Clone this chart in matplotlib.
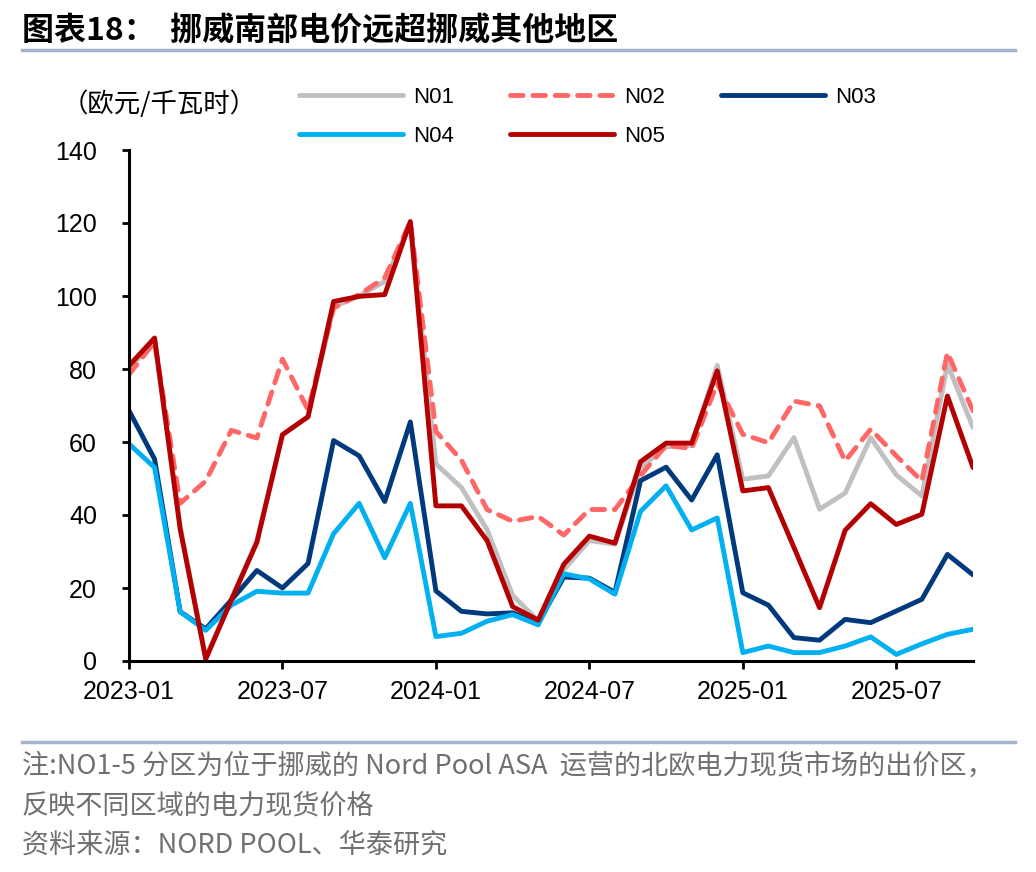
import matplotlib
matplotlib.use("Agg")
import matplotlib.pyplot as plt
from matplotlib.lines import Line2D
import numpy as np

plt.rcParams['font.family'] = ['Liberation Sans', 'Noto Sans CJK SC', 'DejaVu Sans']

months = ['2023-01','2023-02','2023-03','2023-04','2023-05','2023-06','2023-07','2023-08','2023-09','2023-10','2023-11','2023-12',
          '2024-01','2024-02','2024-03','2024-04','2024-05','2024-06','2024-07','2024-08','2024-09','2024-10','2024-11','2024-12',
          '2025-01','2025-02','2025-03','2025-04','2025-05','2025-06','2025-07','2025-08','2025-09','2025-10']
tick_labels = ['2023-01', '2023-07', '2024-01', '2024-07', '2025-01', '2025-07']

N01 = [80, 88, 37, 1, 17, 33, 62, 67, 97, 100, 104, 120, 54, 47.5, 36, 18, 11, 25, 33, 32,
       53, 58.7, 59, 81, 49.8, 50.7, 61.2, 41.6, 46, 61.2, 51, 45.2, 81.3, 64]
N02 = [78.5, 87.4, 43.2, 49.3, 63.2, 61.1, 82.7, 68.8, 96.7, 100.4, 105, 120.4, 62.9, 55, 41.5, 38.3,
       39.6, 34.5, 41.5, 41.5, 50.8, 59.1, 58.2, 76, 62.1, 59.8, 71.2, 69.9, 54.8, 63.5, 56.2, 49.3, 84.5, 68.5]
N03 = [68.6, 55.3, 13.5, 8.8, 16.7, 24.8, 20, 26.7, 60.4, 56.2, 43.7, 65.5, 19.2, 13.6, 12.9, 13.2,
       10.4, 23, 22.7, 18.8, 49.4, 53.1, 44.1, 56.5, 18.7, 15.3, 6.4, 5.7, 11.4, 10.5, 13.7, 16.9, 29.2, 23.6]
N04 = [59.5, 53, 13.5, 8.4, 15.3, 19.1, 18.6, 18.6, 34.9, 43.2, 28.3, 43.2, 6.7, 7.6, 10.9, 12.7,
       9.9, 23.9, 22.5, 18.3, 41, 48, 35.9, 39.2, 2.3, 4.1, 2.3, 2.3, 4.1, 6.6, 1.8, 4.7, 7.3, 8.7]
N05 = [80.9, 88.5, 36.2, 0.5, 16.7, 32.5, 62, 66.9, 98.5, 99.9, 100.4, 120.4, 42.5, 42.5, 33, 14.9,
       11.2, 26.5, 34.2, 32.3, 54.6, 59.7, 59.7, 79.5, 46.6, 47.5, 31.1, 14.6, 35.8, 43.1, 37.4, 40.2, 72.6, 53]

fig = plt.figure(figsize=(10.36, 8.72), dpi=100)
ax = fig.add_axes([129/1036, 1 - 661/872, (973 - 129)/1036, (661 - 150)/872])

x = np.arange(len(months))
lw = 3.5
l1, = ax.plot(x, N01, color='#C0C0C0', lw=lw, label='N01', solid_capstyle='round')
l2, = ax.plot(x, N02, color='#FF6666', lw=lw, label='N02', dashes=(2.6, 2.0), dash_capstyle='round')
l3, = ax.plot(x, N03, color='#003A7D', lw=lw, label='N03', solid_capstyle='round')
l4, = ax.plot(x, N04, color='#00B0F0', lw=lw, label='N04', solid_capstyle='round')
l5, = ax.plot(x, N05, color='#B40000', lw=lw, label='N05', solid_capstyle='round')

ax.set_xlim(0, len(months) - 1)
ax.set_ylim(0, 140)
ax.set_yticks(np.arange(0, 141, 20))
tick_pos = [months.index(t) for t in tick_labels]
ax.set_xticks(tick_pos)
ax.set_xticklabels(tick_labels)

for s in ['top', 'right']:
    ax.spines[s].set_visible(False)
for s in ['left', 'bottom']:
    ax.spines[s].set_linewidth(2.2)
ax.tick_params(axis='y', direction='out', length=5, width=2, labelsize=18, pad=18)
ax.tick_params(axis='x', direction='out', length=6, width=2, labelsize=18, pad=8)

leg = ax.legend(handles=[l1, l4, l2, l5, l3], ncol=3, frameon=False,
                loc='upper left', bbox_to_anchor=(299/1036, 1 - 87/872),
                bbox_transform=fig.transFigure, fontsize=16,
                handlelength=4.7, handletextpad=0.45, columnspacing=2.5,
                labelspacing=0.8, borderpad=0, borderaxespad=0)

cjk = ['Noto Sans CJK SC', 'DejaVu Sans']
fig.text(22/1036, 1 - 31/872, '图表18：  挪威南部电价远超挪威其他地区', fontsize=23, fontweight='bold',
         family=cjk, va='center', ha='left', color='black')
fig.add_artist(Line2D([22/1036, 1015/1036], [1 - 50/872, 1 - 50/872], color='#A3B5CC', lw=2.5,
                      transform=fig.transFigure))
fig.text(62/1036, 1 - 104/872, '（欧元/千瓦时）', fontsize=19, family=cjk,
         va='center', ha='left', color='black')

fig.add_artist(Line2D([22/1036, 1015/1036], [1 - 742/872, 1 - 742/872], color='#A3B5CC', lw=2.5,
                      transform=fig.transFigure))
note_color = '#707070'
fig.text(22/1036, 1 - 766/872, '注:NO1-5 分区为位于挪威的 Nord Pool ASA  运营的北欧电力现货市场的出价区，',
         fontsize=19.5, family=cjk, va='center', ha='left', color=note_color)
fig.text(22/1036, 1 - 806/872, '反映不同区域的电力现货价格',
         fontsize=19.5, family=cjk, va='center', ha='left', color=note_color)
fig.text(22/1036, 1 - 846/872, '资料来源：NORD POOL、华泰研究',
         fontsize=19.5, family=cjk, va='center', ha='left', color=note_color)

fig.savefig('out.png', dpi=100)
